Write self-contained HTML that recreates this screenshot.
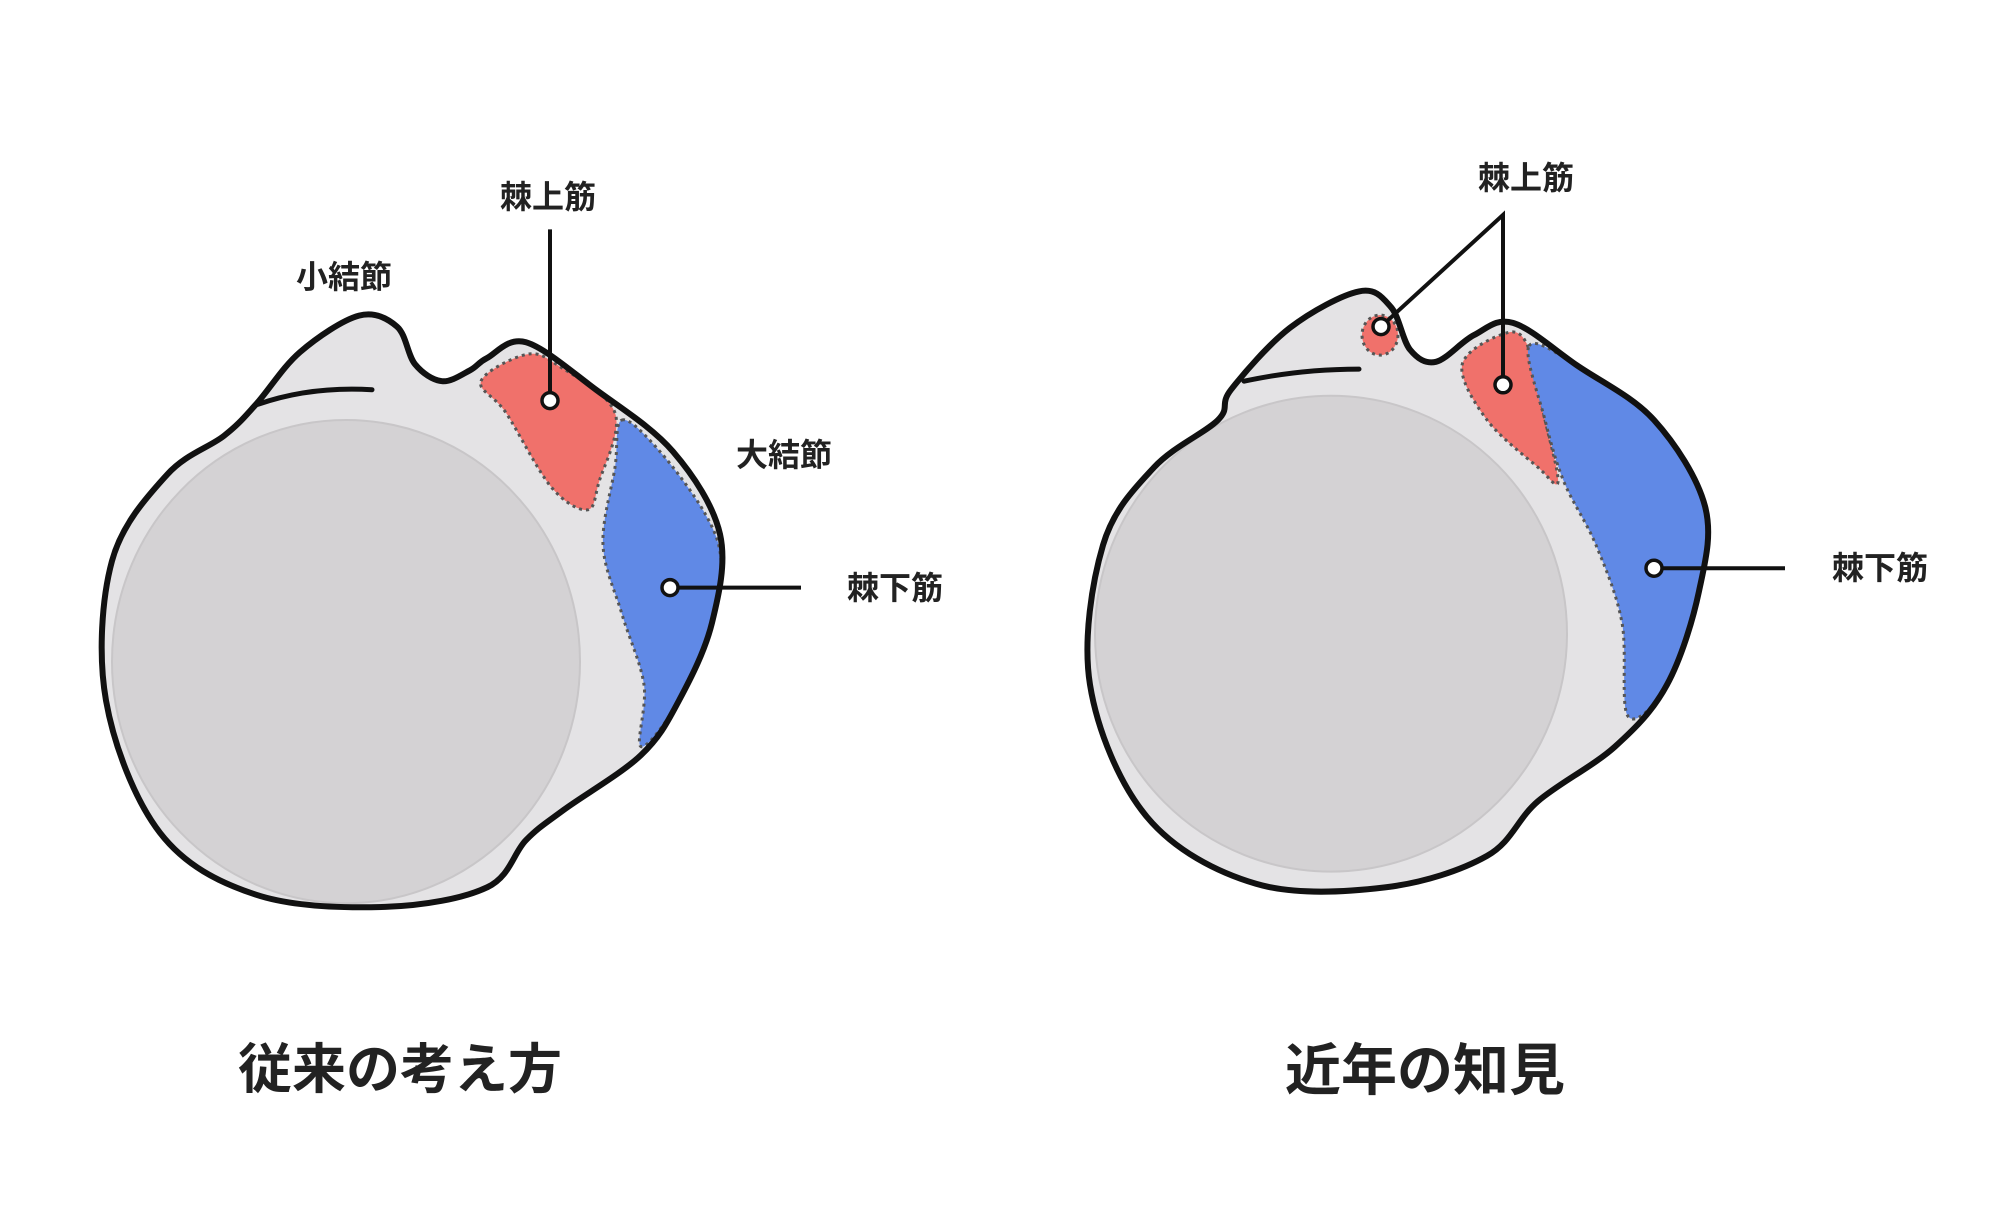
<!DOCTYPE html>
<html><head><meta charset="utf-8"><style>
html,body{margin:0;padding:0;background:#fff;width:2000px;height:1212px;overflow:hidden}
svg{display:block}
text{font-family:"Liberation Sans","Noto Sans CJK JP",sans-serif;font-weight:bold;fill:#222}
</style></head><body>
<svg id="s" width="2000" height="1212" viewBox="0 0 2000 1212" xmlns="http://www.w3.org/2000/svg">
<g id="g"></g>
<text x="548" y="208" font-size="32" text-anchor="middle">棘上筋</text>
<text x="344" y="288" font-size="32" text-anchor="middle">小結節</text>
<text x="784" y="466" font-size="32" text-anchor="middle">大結節</text>
<text x="895" y="599" font-size="32" text-anchor="middle">棘下筋</text>
<text x="400" y="1088" font-size="54" text-anchor="middle">従来の考え方</text>
<text x="1526" y="189" font-size="32" text-anchor="middle">棘上筋</text>
<text x="1880" y="579" font-size="32" text-anchor="middle">棘下筋</text>
<text x="1425" y="1090" font-size="56" text-anchor="middle">近年の知見</text>
</svg>
<script>
var K=1.214;
function sc(p){return p.map(function(q){return [q[0],+(q[1]*K).toFixed(1)];});}
function cr(p,closed){p=sc(p);var n=p.length,d="M"+p[0][0]+","+p[0][1];var m=closed?n:n-1;
for(var i=0;i<m;i++){var p0=p[(i-1+n)%n],p1=p[i],p2=p[(i+1)%n],p3=p[(i+2)%n];
if(!closed){if(i==0)p0=p1;if(i+2>=n)p3=p2;}
var c1=[p1[0]+(p2[0]-p0[0])/6,p1[1]+(p2[1]-p0[1])/6],c2=[p2[0]-(p3[0]-p1[0])/6,p2[1]-(p3[1]-p1[1])/6];
d+="C"+c1[0].toFixed(1)+","+c1[1].toFixed(1)+" "+c2[0].toFixed(1)+","+c2[1].toFixed(1)+" "+p2[0]+","+p2[1];}
return d+(closed?"Z":"");}
function Y(v){return (v*K).toFixed(1);}
var g=document.getElementById('g'),h="";
function path(p,closed,attrs){h+='<path d="'+cr(p,closed)+'" '+attrs+'/>';}
var L=[[256,333],[300,290],[359,260],[397,269],[415,300],[442,314],[470,305],[487,295],[526,282],[596,321],[673,372],[720,440],[712,513],[679,577],[641,622],[564,667],[526,692],[487,731],[385,747],[256,737],[160,686],[106,577],[112,462],[167,391],[224,359]];
var R=[[1231,321],[1290,270],[1359,240],[1391,253],[1410,288],[1436,298],[1474,276],[1513,266],[1577,301],[1654,346],[1705,417],[1699,487],[1667,564],[1615,615],[1538,660],[1487,705],[1385,731],[1256,728],[1147,673],[1090,564],[1103,449],[1154,385],[1218,346]];
path(L,true,'fill="#e4e3e5"');
path(R,true,'fill="#e4e3e5"');
h+='<ellipse cx="346" cy="'+Y(545)+'" rx="234" ry="'+Y(199)+'" fill="#d4d2d4" stroke="#c8c6c8" stroke-width="2"/>';
h+='<ellipse cx="1331" cy="'+Y(522)+'" rx="236" ry="'+Y(196)+'" fill="#d4d2d4" stroke="#c8c6c8" stroke-width="2"/>';
var dash='stroke="#555" stroke-width="3" stroke-dasharray="3,4"';
path([[481,314],[526,292],[558,301],[615,340],[599,397],[587,420],[551,401],[506,340]],true,'fill="#f0716b" '+dash);
path([[622,346],[660,372],[705,423],[721,462],[712,513],[679,577],[641,615],[644,564],[622,506],[603,449],[615,385]],true,'fill="#6089e6" '+dash);
path([[1462,301],[1500,276],[1526,282],[1545,346],[1558,397],[1538,385],[1487,346]],true,'fill="#f0716b" '+dash);
path([[1529,285],[1577,301],[1654,346],[1705,417],[1699,487],[1667,564],[1628,590],[1622,513],[1596,449],[1564,397],[1545,346]],true,'fill="#6089e6" '+dash);
h+='<ellipse cx="1380" cy="'+Y(276)+'" rx="18" ry="20" fill="#f0716b" stroke="#555" stroke-width="3" stroke-dasharray="3,4"/>';
path(L,true,'fill="none" stroke="#111" stroke-width="6" stroke-linejoin="round"');
path(R,true,'fill="none" stroke="#111" stroke-width="6" stroke-linejoin="round"');
h+='<path d="M258,'+Y(333)+' Q310,'+Y(318)+' 372,'+Y(321)+'" fill="none" stroke="#111" stroke-width="5" stroke-linecap="round"/>';
h+='<path d="M1244,'+Y(314)+' Q1300,'+Y(304)+' 1359,'+Y(304)+'" fill="none" stroke="#111" stroke-width="5" stroke-linecap="round"/>';
h+='<path d="M550,'+Y(330)+' V'+Y(189)+' M670,'+Y(484)+' H801 M1503,'+Y(317)+' V'+Y(177)+' L1381,'+Y(269)+' M1654,'+Y(468)+' H1785" fill="none" stroke="#111" stroke-width="4"/>';
[[550,330],[670,484],[1381,269],[1503,317],[1654,468]].forEach(function(c){h+='<circle cx="'+c[0]+'" cy="'+Y(c[1])+'" r="8" fill="#fff" stroke="#111" stroke-width="3.5"/>';});
g.innerHTML=h;
</script>
</body></html>
